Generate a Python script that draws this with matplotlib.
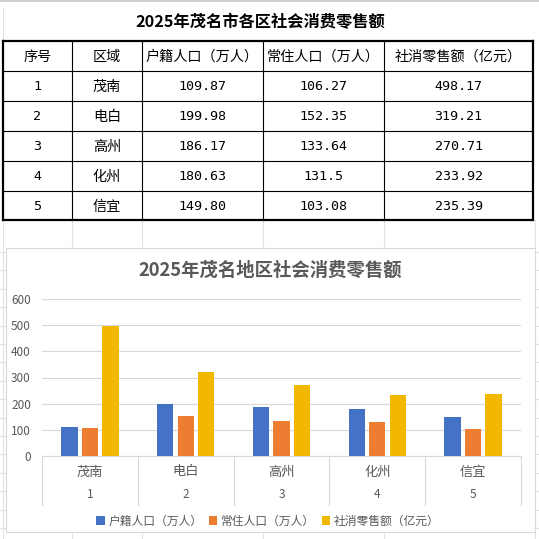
import numpy as np
import matplotlib.pyplot as plt
import matplotlib.transforms as mtransforms
from matplotlib.patches import Rectangle

plt.rcParams['font.family'] = ['Noto Sans CJK SC', 'DejaVu Sans']

table_title = "2025年茂名市各区社会消费零售额"
chart_title = "2025年茂名地区社会消费零售额"
headers = ["序号", "区域", "户籍人口（万人）", "常住人口（万人）", "社消零售额（亿元）"]
seq = ["1", "2", "3", "4", "5"]
regions = ["茂南", "电白", "高州", "化州", "信宜"]
huji_txt = ["109.87", "199.98", "186.17", "180.63", "149.80"]
changzhu_txt = ["106.27", "152.35", "133.64", "131.5", "103.08"]
sales_txt = ["498.17", "319.21", "270.71", "233.92", "235.39"]

huji = [float(v) for v in huji_txt]
changzhu = [float(v) for v in changzhu_txt]
sales = [float(v) for v in sales_txt]
series = [huji, changzhu, sales]
series_names = headers[2:]
colors = ["#4472C4", "#ED7D31", "#F2B800"]

W = H = 539
fig = plt.figure(figsize=(5.39, 5.39), dpi=100)
bg = fig.add_axes([0, 0, 1, 1])
bg.set_xlim(0, W)
bg.set_ylim(H, 0)
bg.axis('off')

# spreadsheet grid behind everything
grid_c = "#E2E2E2"
col_x = [3, 72, 142, 263, 384, 533]
row_y = [41, 71, 101, 131, 161, 191, 220]
bg.plot([0, W], [1, 1], color="#D0D0D0", lw=1.5)
bg.plot([3, 3], [8, H], color=grid_c, lw=0.8)
for x in col_x[1:-1] + [535]:
    bg.plot([x, x], [220, H], color=grid_c, lw=0.8)
for y in np.arange(252, H, 18.4):
    bg.plot([0, W], [y, y], color=grid_c, lw=0.8)

# table
bg.text(260, 22, table_title, ha='center', va='center', fontsize=11.7,
        fontweight='bold', color='black')
for i, y in enumerate(row_y):
    lw = 1.6 if i in (0, len(row_y) - 1) else 0.8
    bg.plot([col_x[0], col_x[-1]], [y, y], color='black', lw=lw, zorder=4)
for i, x in enumerate(col_x):
    lw = 1.6 if i in (0, len(col_x) - 1) else 0.8
    bg.plot([x, x], [row_y[0], row_y[-1]], color='black', lw=lw, zorder=4)

centers = [(col_x[i] + col_x[i + 1]) / 2 for i in range(5)]
for j, h in enumerate(headers):
    bg.text(centers[j], 56.5, h, ha='center', va='center', fontsize=10.2, color='black')
for r in range(5):
    yc = (row_y[r + 1] + row_y[r + 2]) / 2 + 1
    cells = [seq[r], regions[r], huji_txt[r], changzhu_txt[r], sales_txt[r]]
    for j, c in enumerate(cells):
        if j == 1:
            bg.text(centers[j], yc, c, ha='center', va='center', fontsize=10.2, color='black')
        else:
            bg.text(centers[j], yc, c, ha='center', va='center', fontsize=9.6,
                    family='DejaVu Sans Mono', color='black')

# chart box
bg.add_patch(Rectangle((5.5, 248), 529.5, 284, facecolor='white',
                       edgecolor='#D9D9D9', lw=0.8, zorder=3))
bg.text(270, 270, chart_title, ha='center', va='center', fontsize=13.2,
        fontweight='bold', color='#595959', zorder=5)

ax = fig.add_axes([42 / W, 1 - 456 / H, (521 - 42) / W, (456 - 299) / H])
ax.patch.set_alpha(0)
x = np.arange(len(regions))
for k, vals in enumerate(series):
    ax.bar(x + (k - 1) * 0.214, vals, width=0.17, color=colors[k],
           label=series_names[k], zorder=3)

ax.set_xlim(-0.5, 4.5)
ax.set_ylim(0, 600)
ax.set_yticks(range(0, 601, 100))
ax.set_xticks([])
ax.yaxis.grid(True, color='#D9D9D9', lw=0.8)
ax.set_axisbelow(True)
for s in ['left', 'top', 'right']:
    ax.spines[s].set_visible(False)
ax.spines['bottom'].set_color('#D9D9D9')
ax.spines['bottom'].set_linewidth(0.8)
ax.tick_params(axis='y', length=0, pad=8, labelsize=8.5, labelcolor='#595959')

trans = mtransforms.blended_transform_factory(ax.transData, ax.transAxes)
for i in range(len(regions)):
    ax.text(i, -16 / 157, regions[i], transform=trans, ha='center', va='center',
            fontsize=9.5, color='#595959')
    ax.text(i, -38 / 157, seq[i], transform=trans, ha='center', va='center',
            fontsize=8.5, color='#595959')
for b in np.arange(-0.5, 5, 1):
    ax.plot([b, b], [0, -49 / 157], transform=trans, color='#D9D9D9', lw=0.8,
            clip_on=False)

handles, labels = ax.get_legend_handles_labels()
fig.legend(handles, labels, loc='center', bbox_to_anchor=(268 / W, 1 - 521 / H),
           ncol=3, frameon=False, fontsize=8.5, handlelength=0.7, handleheight=0.7,
           handletextpad=0.3, columnspacing=0.6, labelcolor='#595959')

fig.savefig('out.png', dpi=100)
